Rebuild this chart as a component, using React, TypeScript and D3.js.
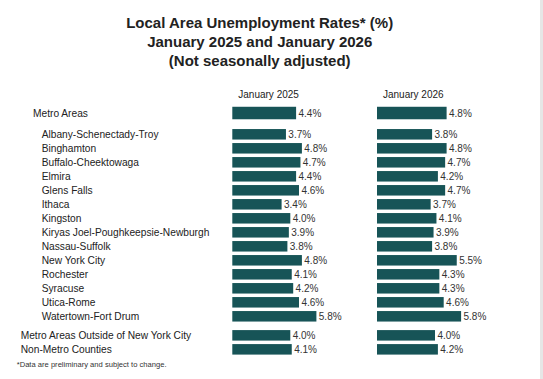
import React from "react";
import * as d3 from "d3";

const titleLines = [
  "Local Area Unemployment Rates* (%)",
  "January 2025 and January 2026",
  "(Not seasonally adjusted)",
];
const seriesNames = ["January 2025", "January 2026"];
const categories = [
  "Metro Areas",
  "Albany-Schenectady-Troy",
  "Binghamton",
  "Buffalo-Cheektowaga",
  "Elmira",
  "Glens Falls",
  "Ithaca",
  "Kingston",
  "Kiryas Joel-Poughkeepsie-Newburgh",
  "Nassau-Suffolk",
  "New York City",
  "Rochester",
  "Syracuse",
  "Utica-Rome",
  "Watertown-Fort Drum",
  "Metro Areas Outside of New York City",
  "Non-Metro Counties",
];
const categoryLevel = [0, 1, 1, 1, 1, 1, 1, 1, 1, 1, 1, 1, 1, 1, 1, 2, 2];
const jan2025 = [4.4, 3.7, 4.8, 4.7, 4.4, 4.6, 3.4, 4.0, 3.9, 3.8, 4.8, 4.1, 4.2, 4.6, 5.8, 4.0, 4.1];
const jan2026 = [4.8, 3.8, 4.8, 4.7, 4.2, 4.7, 3.7, 4.1, 3.9, 3.8, 5.5, 4.3, 4.3, 4.6, 5.8, 4.0, 4.2];
const footnote = "*Data are preliminary and subject to change.";

const W = 543;
const H = 379;
const FONT = "'Liberation Sans', Arial, Helvetica, sans-serif";
const BAR = "#175457";

export default function App() {
  const x = d3.scaleLinear().domain([0, 6]).range([0, 87]);
  const colX = [232.3, 377];
  // slot positions (layout)
  const slot = categories.map((_, i) => {
    if (categoryLevel[i] === 0) return -1.52;
    if (categoryLevel[i] === 2) return i - 1 + 0.36;
    return i - 1;
  });
  const y = d3.scaleLinear().domain([0, 13]).range([134.3, 316.3]);
  const series = [jan2025, jan2026];
  const labelX = [33, 41.7, 20.7];

  return (
    <svg
      width={W}
      height={H}
      style={{ position: "fixed", left: 0, top: 0, background: "#fff" }}
      fontFamily={FONT}
    >
      <rect x={0} y={0} width={W} height={H} fill="#fff" />
      <rect x={540} y={0} width={3} height={H} fill="#e6e6e6" />
      {titleLines.map((t, i) => (
        <text
          key={t}
          x={259.7}
          y={22.7 + i * 18.7}
          textAnchor="middle"
          dominantBaseline="central"
          fontSize={15}
          fontWeight="bold"
          fill="#222"
        >
          {t}
        </text>
      ))}
      {seriesNames.map((s, j) => (
        <text
          key={s}
          x={colX[j] + 6}
          y={94}
          dominantBaseline="central"
          fontSize={10}
          fill="#222"
        >
          {s}
        </text>
      ))}
      {categories.map((c, i) => {
        const cy = y(slot[i]);
        const h = categoryLevel[i] === 0 ? 12.5 : 10.5;
        return (
          <g key={c}>
            <text
              x={labelX[categoryLevel[i]]}
              y={cy}
              dominantBaseline="central"
              fontSize={10.2}
              fill="#222"
            >
              {c}
            </text>
            {series.map((vals, j) => (
              <g key={j}>
                <rect
                  x={colX[j]}
                  y={cy - h / 2}
                  width={x(vals[i])}
                  height={h}
                  fill={BAR}
                />
                <text
                  x={colX[j] + x(vals[i]) + 2.4}
                  y={cy}
                  dominantBaseline="central"
                  fontSize={10}
                  fill="#333"
                >
                  {vals[i].toFixed(1) + "%"}
                </text>
              </g>
            ))}
          </g>
        );
      })}
      <text x={16.7} y={364} dominantBaseline="central" fontSize={7.6} fill="#333">
        {footnote}
      </text>
    </svg>
  );
}
